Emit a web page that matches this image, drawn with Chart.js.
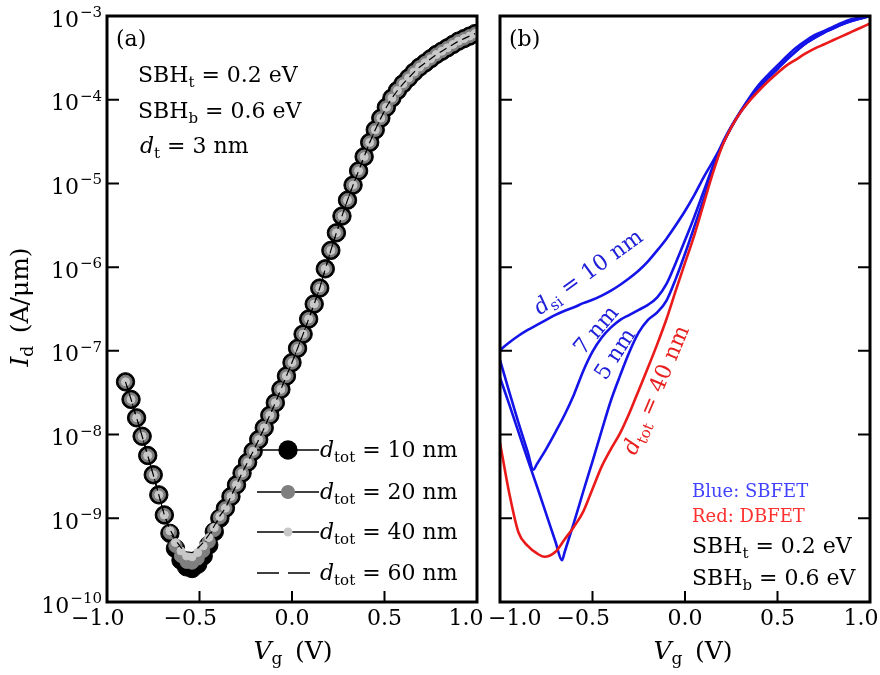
<!DOCTYPE html>
<html><head><meta charset="utf-8">
<script src="https://cdn.jsdelivr.net/npm/chart.js@4.4.1/dist/chart.umd.min.js"></script>
<style>
html,body{margin:0;padding:0;background:#fff;}
#wrap{position:relative;width:880px;height:675px;background:#fff;}
canvas{position:absolute;left:0;top:0;}
</style></head><body>
<div id="wrap"><canvas id="ca" width="880" height="675"></canvas><canvas id="cb" width="880" height="675"></canvas></div>
<script>
// ---------- axis ticks ----------
const xTickValues = [-1.0, -0.5, 0.0, 0.5, 1.0];
const yTickValues = [1e-10, 1e-9, 1e-8, 1e-7, 1e-6, 1e-5, 1e-4, 1e-3];

// ---------- panel (a): Vg (V) and log10(Id [A/um]) ----------
const vgA = [-0.90,-0.87,-0.84,-0.81,-0.78,-0.75,-0.72,-0.69,-0.66,-0.63,-0.60,-0.57,-0.54,-0.51,-0.48,-0.45,-0.42,-0.39,-0.36,-0.33,-0.30,-0.27,-0.24,-0.21,-0.18,-0.15,-0.12,-0.09,-0.06,-0.03,0.00,0.03,0.06,0.09,0.12,0.15,0.18,0.21,0.24,0.27,0.30,0.33,0.36,0.39,0.42,0.45,0.48,0.51,0.54,0.57,0.60,0.63,0.66,0.69,0.72,0.75,0.78,0.81,0.84,0.87,0.90,0.93,0.96,0.99];
const logIdA10 = [-7.37,-7.58,-7.80,-8.02,-8.25,-8.48,-8.72,-8.96,-9.18,-9.36,-9.50,-9.58,-9.60,-9.55,-9.45,-9.32,-9.16,-9.00,-8.88,-8.74,-8.60,-8.46,-8.33,-8.20,-8.06,-7.92,-7.77,-7.62,-7.46,-7.30,-7.14,-6.97,-6.80,-6.62,-6.44,-6.25,-6.02,-5.80,-5.59,-5.39,-5.20,-5.02,-4.85,-4.68,-4.51,-4.36,-4.22,-4.09,-3.98,-3.89,-3.81,-3.74,-3.67,-3.61,-3.56,-3.51,-3.46,-3.42,-3.38,-3.34,-3.30,-3.27,-3.24,-3.21];
const logIdA20 = [-7.37,-7.58,-7.80,-8.02,-8.25,-8.48,-8.72,-8.96,-9.17,-9.33,-9.45,-9.52,-9.53,-9.48,-9.39,-9.28,-9.14,-8.99,-8.88,-8.74,-8.60,-8.46,-8.33,-8.20,-8.06,-7.92,-7.77,-7.62,-7.46,-7.30,-7.14,-6.97,-6.80,-6.62,-6.44,-6.25,-6.02,-5.80,-5.59,-5.39,-5.20,-5.02,-4.85,-4.68,-4.51,-4.36,-4.22,-4.09,-3.98,-3.89,-3.81,-3.74,-3.67,-3.61,-3.56,-3.51,-3.46,-3.42,-3.38,-3.34,-3.30,-3.27,-3.24,-3.21];
const logIdA40 = [-7.37,-7.58,-7.80,-8.02,-8.25,-8.48,-8.72,-8.96,-9.15,-9.29,-9.39,-9.45,-9.46,-9.41,-9.33,-9.23,-9.11,-8.98,-8.88,-8.74,-8.60,-8.46,-8.33,-8.20,-8.06,-7.92,-7.77,-7.62,-7.46,-7.30,-7.14,-6.97,-6.80,-6.62,-6.44,-6.25,-6.02,-5.80,-5.59,-5.39,-5.20,-5.02,-4.85,-4.68,-4.51,-4.36,-4.22,-4.09,-3.98,-3.89,-3.81,-3.74,-3.67,-3.61,-3.56,-3.51,-3.46,-3.42,-3.38,-3.34,-3.30,-3.27,-3.24,-3.21];
const logIdA60 = [-7.37,-7.58,-7.80,-8.02,-8.25,-8.48,-8.72,-8.96,-9.13,-9.26,-9.35,-9.40,-9.41,-9.36,-9.29,-9.20,-9.09,-8.97,-8.88,-8.74,-8.60,-8.46,-8.33,-8.20,-8.06,-7.92,-7.77,-7.62,-7.46,-7.30,-7.14,-6.97,-6.80,-6.62,-6.44,-6.25,-6.02,-5.80,-5.59,-5.39,-5.20,-5.02,-4.85,-4.68,-4.51,-4.36,-4.22,-4.09,-3.98,-3.89,-3.81,-3.74,-3.67,-3.61,-3.56,-3.51,-3.46,-3.42,-3.38,-3.34,-3.30,-3.27,-3.24,-3.21];
const legendA = ['10', '20', '40', '60'];

// ---------- panel (b) ----------
const vgB10 = [-1.00,-0.95,-0.90,-0.85,-0.80,-0.75,-0.70,-0.65,-0.60,-0.55,-0.50,-0.45,-0.40,-0.35,-0.30,-0.25,-0.20,-0.15,-0.10,-0.05,0.00,0.05,0.10,0.15,0.20,0.25,0.30,0.35,0.40,0.45,0.50,0.55,0.60,0.65,0.70,0.75,0.80,0.85,0.90,0.95,1.00];
const logIdB10 = [-6.99,-6.90,-6.82,-6.75,-6.69,-6.63,-6.57,-6.52,-6.48,-6.43,-6.39,-6.34,-6.28,-6.21,-6.13,-6.04,-5.93,-5.80,-5.66,-5.50,-5.33,-5.14,-4.93,-4.74,-4.54,-4.33,-4.14,-3.97,-3.82,-3.70,-3.59,-3.48,-3.38,-3.30,-3.23,-3.18,-3.13,-3.08,-3.04,-3.01,-2.98];
const vgB7 = [-1.00,-0.95,-0.90,-0.85,-0.82,-0.80,-0.75,-0.70,-0.65,-0.60,-0.55,-0.50,-0.45,-0.40,-0.35,-0.30,-0.25,-0.20,-0.15,-0.10,-0.05,0.00,0.05,0.10,0.15,0.20,0.25,0.30,0.35,0.40,0.45,0.50,0.55,0.60,0.65,0.70,0.75,0.80,0.85,0.90,0.95,1.00];
const logIdB7 = [-7.11,-7.49,-7.86,-8.21,-8.42,-8.35,-8.17,-7.97,-7.76,-7.52,-7.24,-7.01,-6.84,-6.72,-6.63,-6.57,-6.51,-6.45,-6.36,-6.20,-5.95,-5.68,-5.40,-5.10,-4.80,-4.53,-4.32,-4.14,-3.99,-3.86,-3.74,-3.63,-3.52,-3.42,-3.33,-3.26,-3.20,-3.15,-3.10,-3.06,-3.03,-3.00];
const vgB5 = [-1.00,-0.95,-0.90,-0.85,-0.80,-0.75,-0.70,-0.665,-0.65,-0.60,-0.55,-0.50,-0.45,-0.40,-0.35,-0.30,-0.25,-0.20,-0.15,-0.10,-0.05,0.00,0.05,0.10,0.15,0.20,0.25,0.30,0.35,0.40,0.45,0.50,0.55,0.60,0.65,0.70,0.75,0.80,0.85,0.90,0.95,1.00];
const logIdB5 = [-7.32,-7.64,-7.97,-8.30,-8.62,-8.95,-9.28,-9.50,-9.40,-9.05,-8.68,-8.32,-7.95,-7.59,-7.29,-7.01,-6.78,-6.63,-6.54,-6.40,-6.14,-5.84,-5.52,-5.19,-4.85,-4.55,-4.33,-4.15,-4.00,-3.86,-3.74,-3.63,-3.52,-3.42,-3.33,-3.26,-3.20,-3.15,-3.10,-3.06,-3.03,-3.00];
const vgBred = [-1.00,-0.95,-0.90,-0.85,-0.80,-0.76,-0.70,-0.65,-0.60,-0.55,-0.50,-0.45,-0.40,-0.35,-0.30,-0.25,-0.20,-0.15,-0.10,-0.05,0.00,0.05,0.10,0.15,0.20,0.25,0.30,0.35,0.40,0.45,0.50,0.55,0.60,0.65,0.70,0.75,0.80,0.85,0.90,0.95,1.00];
const logIdBred = [-8.10,-8.70,-9.17,-9.33,-9.42,-9.46,-9.40,-9.25,-9.10,-8.92,-8.65,-8.38,-8.17,-7.98,-7.74,-7.47,-7.20,-6.92,-6.62,-6.28,-5.95,-5.62,-5.25,-4.88,-4.56,-4.33,-4.15,-4.01,-3.89,-3.78,-3.68,-3.59,-3.52,-3.45,-3.39,-3.34,-3.29,-3.24,-3.19,-3.14,-3.09];

// ---------- helpers ----------
const FONT = '"DejaVu Serif", "Liberation Serif", serif';
const FS = 22;
Chart.defaults.font.family = FONT;
const toPts = (xs, logs) => xs.map((x, i) => ({x: x, y: Math.pow(10, logs[i])}));

function drawRich(ctx, parts, x, y, align, color) {
  let w = 0;
  const segs = parts.map(p => {
    const font = (p.it ? 'italic ' : '') + (p.s || FS) + 'px ' + FONT;
    ctx.font = font;
    const m = ctx.measureText(p.t).width;
    w += m;
    return {p, font, w: m};
  });
  let cx = align === 'center' ? x - w / 2 : align === 'right' ? x - w : x;
  ctx.textAlign = 'left';
  ctx.textBaseline = 'alphabetic';
  for (const s of segs) {
    ctx.font = s.font;
    ctx.fillStyle = s.p.c || color || '#000';
    ctx.fillText(s.p.t, cx, y + (s.p.dy || 0));
    cx += s.w;
  }
}
const sub = (t) => ({t, s: 15, dy: 5});

// axis frame, inward ticks and tick labels, all placed through the chart's scales
function axesPlugin(cfg) {
  return {
    id: 'axesFrame',
    afterDraw(chart) {
      const {ctx, chartArea: a, scales: {x, y}} = chart;
      ctx.save();
      ctx.strokeStyle = '#000';
      ctx.lineWidth = 2;
      ctx.beginPath();
      x.ticks.forEach(t => {
        if (Math.abs(Math.abs(t.value) - 1) < 1e-6) return;
        const px = x.getPixelForValue(t.value);
        ctx.moveTo(px, a.bottom); ctx.lineTo(px, a.bottom - 11);
      });
      y.ticks.forEach(t => {
        if (t.value < 2e-10 || t.value > 5e-4) return;
        const py = y.getPixelForValue(t.value);
        ctx.moveTo(a.left, py); ctx.lineTo(a.left + 12, py);
        if (cfg.rightTicks) { ctx.moveTo(a.right, py); ctx.lineTo(a.right - 12, py); }
      });
      ctx.stroke();
      ctx.lineWidth = 3;
      ctx.strokeRect(a.left, a.top, a.right - a.left, a.bottom - a.top);
      // x tick labels: the number is centred on its tick, a minus sign hangs to the left
      ctx.fillStyle = '#000';
      ctx.textBaseline = 'alphabetic';
      ctx.font = FS + 'px ' + FONT;
      x.ticks.forEach((t, i) => {
        const v = t.value;
        const num = Math.abs(v).toFixed(1);
        const w = ctx.measureText(num).width;
        const px = x.getPixelForValue(v) + (cfg.xShift[i] || 0);
        ctx.textAlign = 'left';
        ctx.fillText(num, px - w / 2, a.bottom + 23);
        if (v < -1e-9) { ctx.textAlign = 'right'; ctx.fillText('\u2212', px - w / 2, a.bottom + 23); }
      });
      // y tick labels 10^n
      if (cfg.yLabels) {
        y.ticks.forEach(t => {
          const py = y.getPixelForValue(t.value);
          const e = Math.round(Math.log10(t.value));
          const expTxt = (e < 0 ? '\u2212' : '') + Math.abs(e);
          ctx.font = '15px ' + FONT;
          const we = ctx.measureText(expTxt).width;
          ctx.textAlign = 'left';
          const xr = a.left - 5;
          ctx.fillText(expTxt, xr - we, py + 1);
          ctx.font = FS + 'px ' + FONT;
          ctx.textAlign = 'right';
          ctx.fillText('10', xr - we - 1, py + 10.5);
        });
      }
      ctx.restore();
    }
  };
}

function makeOptions(leftWidth, rightPad) {
  return {
    responsive: false, animation: false, devicePixelRatio: 1,
    layout: {padding: {top: 16, right: rightPad, bottom: 0, left: 0}},
    plugins: {legend: {display: false}, tooltip: {enabled: false}},
    elements: {point: {borderWidth: 0}},
    scales: {
      x: {
        type: 'linear', min: -1, max: 1,
        afterBuildTicks: s => { s.ticks = xTickValues.map(v => ({value: v})); },
        grid: {display: false, drawTicks: false}, border: {display: false},
        ticks: {display: false},
        afterFit: s => { s.height = 73; s.paddingLeft = 0; s.paddingRight = 0; }
      },
      y: {
        type: 'logarithmic', min: 1e-10, max: 1e-3,
        afterBuildTicks: s => { s.ticks = yTickValues.map(v => ({value: v})); },
        grid: {display: false, drawTicks: false}, border: {display: false},
        ticks: {display: false},
        afterFit: s => { s.width = leftWidth; s.paddingTop = 0; s.paddingBottom = 0; }
      }
    }
  };
}

// ---------- panel (a) ----------
const textA = {
  id: 'textA',
  afterDraw(chart) {
    const ctx = chart.ctx;
    ctx.save();
    drawRich(ctx, [{t: '(a)'}], 116, 46, 'left');
    drawRich(ctx, [{t: 'SBH'}, sub('t'), {t: ' = 0.2 eV'}], 138, 82, 'left');
    drawRich(ctx, [{t: 'SBH'}, sub('b'), {t: ' = 0.6 eV'}], 138, 118, 'left');
    drawRich(ctx, [{t: 'd', it: true}, sub('t'), {t: ' = 3 nm'}], 140, 153, 'left');
    // legend
    const rowsY = [450, 492, 532, 573];
    const ds = chart.data.datasets;
    legendA.forEach((lab, i) => {
      const yy = rowsY[i];
      const d = ds[i];
      ctx.strokeStyle = '#000';
      ctx.lineWidth = 1.3;
      ctx.setLineDash(d.borderDash ? [22, 9] : []);
      ctx.beginPath(); ctx.moveTo(257, yy); ctx.lineTo(319, yy); ctx.stroke();
      ctx.setLineDash([]);
      if (d.pointRadius > 0) {
        ctx.fillStyle = d.pointBackgroundColor;
        ctx.beginPath(); ctx.arc(288, yy, d.pointRadius + 0.5, 0, Math.PI * 2); ctx.fill();
      }
      drawRich(ctx, [{t: 'd', it: true}, sub('tot'), {t: ' = ' + lab + ' nm'}], 320, yy + 7, 'left');
    });
    // axis titles
    drawRich(ctx, [{t: 'V', it: true, s: 25}, {t: 'g', s: 17, dy: 5}, {t: '\u2002(V)', s: 25}], 293, 659, 'center');
    ctx.translate(28, 307);
    ctx.rotate(-Math.PI / 2);
    drawRich(ctx, [{t: 'I', it: true, s: 25}, {t: 'd', s: 17, dy: 5}, {t: '\u2002(A/\u03BCm)', s: 25}], 0, 0, 'center');
    ctx.restore();
  }
};

new Chart(document.getElementById('ca'), {
  type: 'line',
  data: {
    datasets: [
      {data: toPts(vgA, logIdA10), order: 4, borderColor: '#000', borderWidth: 1, tension: 0, pointRadius: 9.2, pointBackgroundColor: '#000', pointBorderColor: '#000'},
      {data: toPts(vgA, logIdA20), order: 3, borderColor: '#000', borderWidth: 1, tension: 0, pointRadius: 6.6, pointBackgroundColor: '#7f7f7f', pointBorderColor: '#7f7f7f'},
      {data: toPts(vgA, logIdA40), order: 2, borderColor: '#000', borderWidth: 1, tension: 0, pointRadius: 4, pointBackgroundColor: '#c8c8c8', pointBorderColor: '#c8c8c8'},
      {data: toPts(vgA, logIdA60), order: 1, borderColor: '#000', borderWidth: 1.2, borderDash: [8, 5], tension: 0, pointRadius: 0}
    ]
  },
  options: makeOptions(107, 403),
  plugins: [axesPlugin({rightTicks: false, yLabels: true, xShift: [0, 0, 0, 0, -11]}), textA]
});

// ---------- panel (b) ----------
const BLUE = '#1414e8', RED = '#ea1a1a';
const textB = {
  id: 'textB',
  afterDraw(chart) {
    const ctx = chart.ctx;
    ctx.save();
    drawRich(ctx, [{t: '(b)'}], 509, 46, 'left');
    drawRich(ctx, [{t: 'Blue: SBFET', s: 18}], 692, 497, 'left', '#4343ff');
    drawRich(ctx, [{t: 'Red: DBFET', s: 18}], 692, 522, 'left', '#ff3030');
    drawRich(ctx, [{t: 'SBH'}, sub('t'), {t: ' = 0.2 eV'}], 692, 553, 'left');
    drawRich(ctx, [{t: 'SBH'}, sub('b'), {t: ' = 0.6 eV'}], 692, 585, 'left');
    drawRich(ctx, [{t: 'V', it: true, s: 25}, {t: 'g', s: 17, dy: 5}, {t: '\u2002(V)', s: 25}], 693, 659, 'center');
    const rot = (cx, cy, deg, parts, color) => {
      ctx.save();
      ctx.translate(cx, cy);
      ctx.rotate(-deg * Math.PI / 180);
      drawRich(ctx, parts, 0, 7, 'center', color);
      ctx.restore();
    };
    rot(588, 272, 36, [{t: 'd', it: true}, sub('si'), {t: ' = 10 nm'}], '#2020d8');
    rot(596, 330, 50, [{t: '7 nm'}], '#2020d8');
    rot(615, 354, 57, [{t: '5 nm'}], '#2020d8');
    rot(656, 390, 67, [{t: 'd', it: true}, sub('tot'), {t: ' = 40 nm'}], '#e82020');
    ctx.restore();
  }
};

new Chart(document.getElementById('cb'), {
  type: 'line',
  data: {
    datasets: [
      {data: toPts(vgBred, logIdBred), order: 0, borderColor: RED, borderWidth: 2.6, cubicInterpolationMode: 'monotone', pointRadius: 0},
      {data: toPts(vgB10, logIdB10), order: 1, borderColor: BLUE, borderWidth: 2.6, cubicInterpolationMode: 'monotone', pointRadius: 0},
      {data: toPts(vgB7, logIdB7), order: 2, borderColor: BLUE, borderWidth: 2.6, cubicInterpolationMode: 'monotone', pointRadius: 0},
      {data: toPts(vgB5, logIdB5), order: 3, borderColor: BLUE, borderWidth: 2.6, cubicInterpolationMode: 'monotone', pointRadius: 0}
    ]
  },
  options: makeOptions(500, 10),
  plugins: [axesPlugin({rightTicks: true, yLabels: false, xShift: [24, 0, 0, 0, -9]}), textB]
});
</script>
</body></html>
